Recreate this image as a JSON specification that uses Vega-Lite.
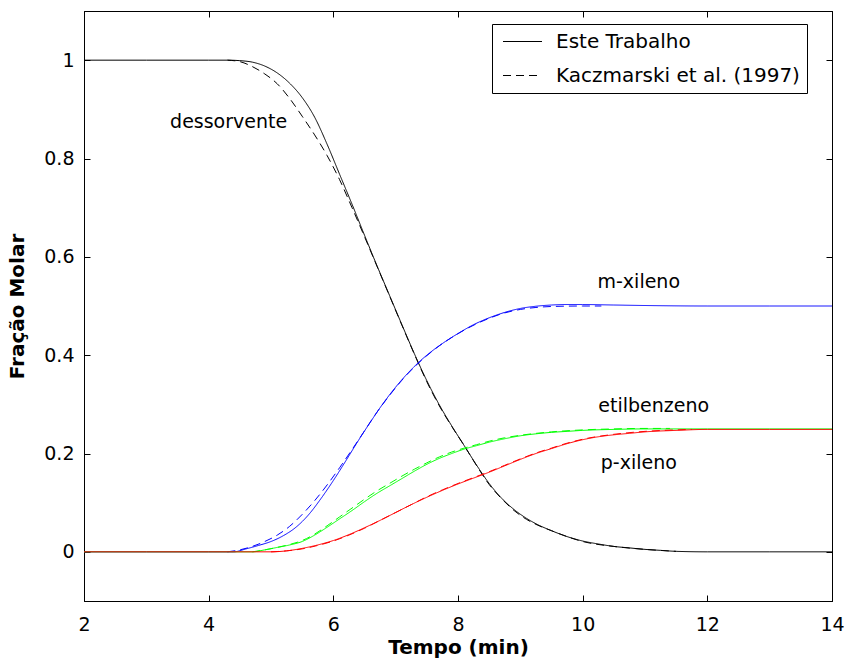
{
  "$schema": "https://vega.github.io/schema/vega-lite/v6.json",
  "width": 748,
  "height": 590,
  "padding": {"left": 84, "top": 11, "right": 13, "bottom": 62},
  "autosize": {"type": "none"},
  "background": "white",
  "config": {
    "font": "DejaVu Sans",
    "view": {"stroke": "black", "strokeWidth": 1},
    "axis": {
      "labelFont": "DejaVu Sans", "labelFontSize": 19, "labelColor": "black",
      "tickColor": "black", "tickSize": -6, "tickWidth": 1,
      "domainColor": "black", "domainWidth": 1, "grid": false,
      "labelFlush": false, "labelOverlap": false,
      "titleFont": "DejaVu Sans", "titleFontSize": 20, "titleFontWeight": "bold", "titleColor": "black"
    }
  },
  "resolve": {"axis": {"x": "independent", "y": "independent"}},
  "layer": [
    {
      "data": {"values": [
        {"c":"dessorvente","s":"Kaczmarski et al. (1997)","t":4.3,"v":1},
        {"c":"dessorvente","s":"Kaczmarski et al. (1997)","t":4.5,"v":0.997},
        {"c":"dessorvente","s":"Kaczmarski et al. (1997)","t":4.7,"v":0.987},
        {"c":"dessorvente","s":"Kaczmarski et al. (1997)","t":4.9,"v":0.972},
        {"c":"dessorvente","s":"Kaczmarski et al. (1997)","t":5.1,"v":0.952},
        {"c":"dessorvente","s":"Kaczmarski et al. (1997)","t":5.3,"v":0.922},
        {"c":"dessorvente","s":"Kaczmarski et al. (1997)","t":5.5,"v":0.886},
        {"c":"dessorvente","s":"Kaczmarski et al. (1997)","t":5.7,"v":0.848},
        {"c":"dessorvente","s":"Kaczmarski et al. (1997)","t":5.9,"v":0.806},
        {"c":"dessorvente","s":"Kaczmarski et al. (1997)","t":6.1,"v":0.757},
        {"c":"dessorvente","s":"Kaczmarski et al. (1997)","t":6.3,"v":0.7},
        {"c":"dessorvente","s":"Kaczmarski et al. (1997)","t":6.5,"v":0.641},
        {"c":"dessorvente","s":"Kaczmarski et al. (1997)","t":6.7,"v":0.581},
        {"c":"dessorvente","s":"Kaczmarski et al. (1997)","t":6.9,"v":0.521},
        {"c":"dessorvente","s":"Kaczmarski et al. (1997)","t":7.1,"v":0.461},
        {"c":"dessorvente","s":"Kaczmarski et al. (1997)","t":7.3,"v":0.402},
        {"c":"dessorvente","s":"Kaczmarski et al. (1997)","t":7.5,"v":0.346},
        {"c":"dessorvente","s":"Kaczmarski et al. (1997)","t":7.7,"v":0.297},
        {"c":"dessorvente","s":"Kaczmarski et al. (1997)","t":7.9,"v":0.255},
        {"c":"dessorvente","s":"Kaczmarski et al. (1997)","t":8.1,"v":0.216},
        {"c":"dessorvente","s":"Kaczmarski et al. (1997)","t":8.3,"v":0.175},
        {"c":"dessorvente","s":"Kaczmarski et al. (1997)","t":8.5,"v":0.137},
        {"c":"dessorvente","s":"Kaczmarski et al. (1997)","t":8.7,"v":0.108},
        {"c":"dessorvente","s":"Kaczmarski et al. (1997)","t":8.9,"v":0.084},
        {"c":"dessorvente","s":"Kaczmarski et al. (1997)","t":9.1,"v":0.066},
        {"c":"dessorvente","s":"Kaczmarski et al. (1997)","t":9.3,"v":0.053},
        {"c":"dessorvente","s":"Kaczmarski et al. (1997)","t":9.5,"v":0.043},
        {"c":"dessorvente","s":"Kaczmarski et al. (1997)","t":9.75,"v":0.031},
        {"c":"dessorvente","s":"Kaczmarski et al. (1997)","t":10,"v":0.021},
        {"c":"dessorvente","s":"Kaczmarski et al. (1997)","t":10.5,"v":0.011},
        {"c":"dessorvente","s":"Kaczmarski et al. (1997)","t":11,"v":0.005},
        {"c":"dessorvente","s":"Kaczmarski et al. (1997)","t":11.5,"v":0.001},

        {"c":"dessorvente","s":"Este Trabalho","t":2,"v":1},
        {"c":"dessorvente","s":"Este Trabalho","t":3,"v":1},
        {"c":"dessorvente","s":"Este Trabalho","t":4,"v":1},
        {"c":"dessorvente","s":"Este Trabalho","t":4.3,"v":1},
        {"c":"dessorvente","s":"Este Trabalho","t":4.5,"v":0.999},
        {"c":"dessorvente","s":"Este Trabalho","t":4.7,"v":0.996},
        {"c":"dessorvente","s":"Este Trabalho","t":4.9,"v":0.988},
        {"c":"dessorvente","s":"Este Trabalho","t":5.1,"v":0.974},
        {"c":"dessorvente","s":"Este Trabalho","t":5.3,"v":0.953},
        {"c":"dessorvente","s":"Este Trabalho","t":5.5,"v":0.924},
        {"c":"dessorvente","s":"Este Trabalho","t":5.7,"v":0.884},
        {"c":"dessorvente","s":"Este Trabalho","t":5.9,"v":0.829},
        {"c":"dessorvente","s":"Este Trabalho","t":6.1,"v":0.768},
        {"c":"dessorvente","s":"Este Trabalho","t":6.3,"v":0.707},
        {"c":"dessorvente","s":"Este Trabalho","t":6.5,"v":0.644},
        {"c":"dessorvente","s":"Este Trabalho","t":6.7,"v":0.582},
        {"c":"dessorvente","s":"Este Trabalho","t":6.9,"v":0.522},
        {"c":"dessorvente","s":"Este Trabalho","t":7.1,"v":0.462},
        {"c":"dessorvente","s":"Este Trabalho","t":7.3,"v":0.403},
        {"c":"dessorvente","s":"Este Trabalho","t":7.5,"v":0.348},
        {"c":"dessorvente","s":"Este Trabalho","t":7.7,"v":0.299},
        {"c":"dessorvente","s":"Este Trabalho","t":7.9,"v":0.256},
        {"c":"dessorvente","s":"Este Trabalho","t":8.1,"v":0.216},
        {"c":"dessorvente","s":"Este Trabalho","t":8.3,"v":0.176},
        {"c":"dessorvente","s":"Este Trabalho","t":8.5,"v":0.139},
        {"c":"dessorvente","s":"Este Trabalho","t":8.7,"v":0.109},
        {"c":"dessorvente","s":"Este Trabalho","t":8.9,"v":0.086},
        {"c":"dessorvente","s":"Este Trabalho","t":9.1,"v":0.068},
        {"c":"dessorvente","s":"Este Trabalho","t":9.3,"v":0.054},
        {"c":"dessorvente","s":"Este Trabalho","t":9.5,"v":0.043},
        {"c":"dessorvente","s":"Este Trabalho","t":9.75,"v":0.031},
        {"c":"dessorvente","s":"Este Trabalho","t":10,"v":0.022},
        {"c":"dessorvente","s":"Este Trabalho","t":10.25,"v":0.016},
        {"c":"dessorvente","s":"Este Trabalho","t":10.5,"v":0.011},
        {"c":"dessorvente","s":"Este Trabalho","t":10.75,"v":0.008},
        {"c":"dessorvente","s":"Este Trabalho","t":11,"v":0.005},
        {"c":"dessorvente","s":"Este Trabalho","t":11.25,"v":0.003},
        {"c":"dessorvente","s":"Este Trabalho","t":11.5,"v":0.001},
        {"c":"dessorvente","s":"Este Trabalho","t":12,"v":0},
        {"c":"dessorvente","s":"Este Trabalho","t":13,"v":0},
        {"c":"dessorvente","s":"Este Trabalho","t":14,"v":0},

        {"c":"m-xileno","s":"Kaczmarski et al. (1997)","t":4.3,"v":0},
        {"c":"m-xileno","s":"Kaczmarski et al. (1997)","t":4.5,"v":0.004},
        {"c":"m-xileno","s":"Kaczmarski et al. (1997)","t":4.7,"v":0.011},
        {"c":"m-xileno","s":"Kaczmarski et al. (1997)","t":4.9,"v":0.021},
        {"c":"m-xileno","s":"Kaczmarski et al. (1997)","t":5.1,"v":0.034},
        {"c":"m-xileno","s":"Kaczmarski et al. (1997)","t":5.3,"v":0.052},
        {"c":"m-xileno","s":"Kaczmarski et al. (1997)","t":5.5,"v":0.076},
        {"c":"m-xileno","s":"Kaczmarski et al. (1997)","t":5.7,"v":0.104},
        {"c":"m-xileno","s":"Kaczmarski et al. (1997)","t":5.9,"v":0.136},
        {"c":"m-xileno","s":"Kaczmarski et al. (1997)","t":6.1,"v":0.171},
        {"c":"m-xileno","s":"Kaczmarski et al. (1997)","t":6.3,"v":0.208},
        {"c":"m-xileno","s":"Kaczmarski et al. (1997)","t":6.5,"v":0.246},
        {"c":"m-xileno","s":"Kaczmarski et al. (1997)","t":6.7,"v":0.284},
        {"c":"m-xileno","s":"Kaczmarski et al. (1997)","t":6.9,"v":0.318},
        {"c":"m-xileno","s":"Kaczmarski et al. (1997)","t":7.1,"v":0.349},
        {"c":"m-xileno","s":"Kaczmarski et al. (1997)","t":7.3,"v":0.376},
        {"c":"m-xileno","s":"Kaczmarski et al. (1997)","t":7.5,"v":0.399},
        {"c":"m-xileno","s":"Kaczmarski et al. (1997)","t":7.7,"v":0.419},
        {"c":"m-xileno","s":"Kaczmarski et al. (1997)","t":7.9,"v":0.436},
        {"c":"m-xileno","s":"Kaczmarski et al. (1997)","t":8.1,"v":0.451},
        {"c":"m-xileno","s":"Kaczmarski et al. (1997)","t":8.3,"v":0.464},
        {"c":"m-xileno","s":"Kaczmarski et al. (1997)","t":8.5,"v":0.475},
        {"c":"m-xileno","s":"Kaczmarski et al. (1997)","t":8.75,"v":0.486},
        {"c":"m-xileno","s":"Kaczmarski et al. (1997)","t":9,"v":0.493},
        {"c":"m-xileno","s":"Kaczmarski et al. (1997)","t":9.25,"v":0.497},
        {"c":"m-xileno","s":"Kaczmarski et al. (1997)","t":9.5,"v":0.499},
        {"c":"m-xileno","s":"Kaczmarski et al. (1997)","t":10,"v":0.5},
        {"c":"m-xileno","s":"Kaczmarski et al. (1997)","t":10.3,"v":0.5},

        {"c":"m-xileno","s":"Este Trabalho","t":2,"v":0},
        {"c":"m-xileno","s":"Este Trabalho","t":3,"v":0},
        {"c":"m-xileno","s":"Este Trabalho","t":4,"v":0},
        {"c":"m-xileno","s":"Este Trabalho","t":4.4,"v":0},
        {"c":"m-xileno","s":"Este Trabalho","t":4.6,"v":0.006},
        {"c":"m-xileno","s":"Este Trabalho","t":4.8,"v":0.013},
        {"c":"m-xileno","s":"Este Trabalho","t":5,"v":0.021},
        {"c":"m-xileno","s":"Este Trabalho","t":5.2,"v":0.033},
        {"c":"m-xileno","s":"Este Trabalho","t":5.4,"v":0.05},
        {"c":"m-xileno","s":"Este Trabalho","t":5.6,"v":0.075},
        {"c":"m-xileno","s":"Este Trabalho","t":5.8,"v":0.108},
        {"c":"m-xileno","s":"Este Trabalho","t":6,"v":0.145},
        {"c":"m-xileno","s":"Este Trabalho","t":6.2,"v":0.185},
        {"c":"m-xileno","s":"Este Trabalho","t":6.4,"v":0.226},
        {"c":"m-xileno","s":"Este Trabalho","t":6.6,"v":0.265},
        {"c":"m-xileno","s":"Este Trabalho","t":6.8,"v":0.302},
        {"c":"m-xileno","s":"Este Trabalho","t":7,"v":0.335},
        {"c":"m-xileno","s":"Este Trabalho","t":7.2,"v":0.364},
        {"c":"m-xileno","s":"Este Trabalho","t":7.4,"v":0.389},
        {"c":"m-xileno","s":"Este Trabalho","t":7.6,"v":0.41},
        {"c":"m-xileno","s":"Este Trabalho","t":7.8,"v":0.428},
        {"c":"m-xileno","s":"Este Trabalho","t":8,"v":0.444},
        {"c":"m-xileno","s":"Este Trabalho","t":8.25,"v":0.462},
        {"c":"m-xileno","s":"Este Trabalho","t":8.5,"v":0.476},
        {"c":"m-xileno","s":"Este Trabalho","t":8.75,"v":0.487},
        {"c":"m-xileno","s":"Este Trabalho","t":9,"v":0.495},
        {"c":"m-xileno","s":"Este Trabalho","t":9.25,"v":0.4995},
        {"c":"m-xileno","s":"Este Trabalho","t":9.5,"v":0.502},
        {"c":"m-xileno","s":"Este Trabalho","t":9.75,"v":0.503},
        {"c":"m-xileno","s":"Este Trabalho","t":10,"v":0.503},
        {"c":"m-xileno","s":"Este Trabalho","t":10.5,"v":0.502},
        {"c":"m-xileno","s":"Este Trabalho","t":11,"v":0.501},
        {"c":"m-xileno","s":"Este Trabalho","t":12,"v":0.5},
        {"c":"m-xileno","s":"Este Trabalho","t":13,"v":0.5},
        {"c":"m-xileno","s":"Este Trabalho","t":14,"v":0.5},

        {"c":"etilbenzeno","s":"Kaczmarski et al. (1997)","t":4.7,"v":0},
        {"c":"etilbenzeno","s":"Kaczmarski et al. (1997)","t":4.9,"v":0.004},
        {"c":"etilbenzeno","s":"Kaczmarski et al. (1997)","t":5.1,"v":0.009},
        {"c":"etilbenzeno","s":"Kaczmarski et al. (1997)","t":5.3,"v":0.015},
        {"c":"etilbenzeno","s":"Kaczmarski et al. (1997)","t":5.5,"v":0.023},
        {"c":"etilbenzeno","s":"Kaczmarski et al. (1997)","t":5.7,"v":0.036},
        {"c":"etilbenzeno","s":"Kaczmarski et al. (1997)","t":5.9,"v":0.053},
        {"c":"etilbenzeno","s":"Kaczmarski et al. (1997)","t":6.1,"v":0.071},
        {"c":"etilbenzeno","s":"Kaczmarski et al. (1997)","t":6.3,"v":0.089},
        {"c":"etilbenzeno","s":"Kaczmarski et al. (1997)","t":6.5,"v":0.107},
        {"c":"etilbenzeno","s":"Kaczmarski et al. (1997)","t":6.7,"v":0.124},
        {"c":"etilbenzeno","s":"Kaczmarski et al. (1997)","t":6.9,"v":0.139},
        {"c":"etilbenzeno","s":"Kaczmarski et al. (1997)","t":7.1,"v":0.154},
        {"c":"etilbenzeno","s":"Kaczmarski et al. (1997)","t":7.3,"v":0.168},
        {"c":"etilbenzeno","s":"Kaczmarski et al. (1997)","t":7.5,"v":0.181},
        {"c":"etilbenzeno","s":"Kaczmarski et al. (1997)","t":7.7,"v":0.193},
        {"c":"etilbenzeno","s":"Kaczmarski et al. (1997)","t":7.9,"v":0.203},
        {"c":"etilbenzeno","s":"Kaczmarski et al. (1997)","t":8.1,"v":0.211},
        {"c":"etilbenzeno","s":"Kaczmarski et al. (1997)","t":8.3,"v":0.218},
        {"c":"etilbenzeno","s":"Kaczmarski et al. (1997)","t":8.5,"v":0.225},
        {"c":"etilbenzeno","s":"Kaczmarski et al. (1997)","t":8.75,"v":0.232},
        {"c":"etilbenzeno","s":"Kaczmarski et al. (1997)","t":9,"v":0.237},
        {"c":"etilbenzeno","s":"Kaczmarski et al. (1997)","t":9.5,"v":0.244},
        {"c":"etilbenzeno","s":"Kaczmarski et al. (1997)","t":10,"v":0.248},
        {"c":"etilbenzeno","s":"Kaczmarski et al. (1997)","t":10.5,"v":0.25},
        {"c":"etilbenzeno","s":"Kaczmarski et al. (1997)","t":11,"v":0.251},
        {"c":"etilbenzeno","s":"Kaczmarski et al. (1997)","t":11.4,"v":0.251},

        {"c":"etilbenzeno","s":"Este Trabalho","t":2,"v":0},
        {"c":"etilbenzeno","s":"Este Trabalho","t":3,"v":0},
        {"c":"etilbenzeno","s":"Este Trabalho","t":4,"v":0},
        {"c":"etilbenzeno","s":"Este Trabalho","t":4.7,"v":0},
        {"c":"etilbenzeno","s":"Este Trabalho","t":4.9,"v":0.004},
        {"c":"etilbenzeno","s":"Este Trabalho","t":5.1,"v":0.009},
        {"c":"etilbenzeno","s":"Este Trabalho","t":5.3,"v":0.014},
        {"c":"etilbenzeno","s":"Este Trabalho","t":5.5,"v":0.021},
        {"c":"etilbenzeno","s":"Este Trabalho","t":5.7,"v":0.034},
        {"c":"etilbenzeno","s":"Este Trabalho","t":5.9,"v":0.05},
        {"c":"etilbenzeno","s":"Este Trabalho","t":6.1,"v":0.067},
        {"c":"etilbenzeno","s":"Este Trabalho","t":6.3,"v":0.084},
        {"c":"etilbenzeno","s":"Este Trabalho","t":6.5,"v":0.102},
        {"c":"etilbenzeno","s":"Este Trabalho","t":6.7,"v":0.119},
        {"c":"etilbenzeno","s":"Este Trabalho","t":6.9,"v":0.134},
        {"c":"etilbenzeno","s":"Este Trabalho","t":7.1,"v":0.149},
        {"c":"etilbenzeno","s":"Este Trabalho","t":7.3,"v":0.164},
        {"c":"etilbenzeno","s":"Este Trabalho","t":7.5,"v":0.178},
        {"c":"etilbenzeno","s":"Este Trabalho","t":7.7,"v":0.19},
        {"c":"etilbenzeno","s":"Este Trabalho","t":7.9,"v":0.2},
        {"c":"etilbenzeno","s":"Este Trabalho","t":8.1,"v":0.209},
        {"c":"etilbenzeno","s":"Este Trabalho","t":8.3,"v":0.216},
        {"c":"etilbenzeno","s":"Este Trabalho","t":8.5,"v":0.223},
        {"c":"etilbenzeno","s":"Este Trabalho","t":8.75,"v":0.23},
        {"c":"etilbenzeno","s":"Este Trabalho","t":9,"v":0.236},
        {"c":"etilbenzeno","s":"Este Trabalho","t":9.25,"v":0.24},
        {"c":"etilbenzeno","s":"Este Trabalho","t":9.5,"v":0.243},
        {"c":"etilbenzeno","s":"Este Trabalho","t":9.75,"v":0.245},
        {"c":"etilbenzeno","s":"Este Trabalho","t":10,"v":0.247},
        {"c":"etilbenzeno","s":"Este Trabalho","t":10.5,"v":0.249},
        {"c":"etilbenzeno","s":"Este Trabalho","t":11,"v":0.25},
        {"c":"etilbenzeno","s":"Este Trabalho","t":12,"v":0.25},
        {"c":"etilbenzeno","s":"Este Trabalho","t":13,"v":0.25},
        {"c":"etilbenzeno","s":"Este Trabalho","t":14,"v":0.25},

        {"c":"p-xileno","s":"Kaczmarski et al. (1997)","t":5,"v":0},
        {"c":"p-xileno","s":"Kaczmarski et al. (1997)","t":5.25,"v":0.002},
        {"c":"p-xileno","s":"Kaczmarski et al. (1997)","t":5.5,"v":0.006},
        {"c":"p-xileno","s":"Kaczmarski et al. (1997)","t":5.75,"v":0.013},
        {"c":"p-xileno","s":"Kaczmarski et al. (1997)","t":6,"v":0.022},
        {"c":"p-xileno","s":"Kaczmarski et al. (1997)","t":6.25,"v":0.034},
        {"c":"p-xileno","s":"Kaczmarski et al. (1997)","t":6.5,"v":0.048},
        {"c":"p-xileno","s":"Kaczmarski et al. (1997)","t":6.75,"v":0.064},
        {"c":"p-xileno","s":"Kaczmarski et al. (1997)","t":7,"v":0.08},
        {"c":"p-xileno","s":"Kaczmarski et al. (1997)","t":7.25,"v":0.096},
        {"c":"p-xileno","s":"Kaczmarski et al. (1997)","t":7.5,"v":0.112},
        {"c":"p-xileno","s":"Kaczmarski et al. (1997)","t":7.75,"v":0.126},
        {"c":"p-xileno","s":"Kaczmarski et al. (1997)","t":8,"v":0.139},
        {"c":"p-xileno","s":"Kaczmarski et al. (1997)","t":8.25,"v":0.151},
        {"c":"p-xileno","s":"Kaczmarski et al. (1997)","t":8.5,"v":0.163},
        {"c":"p-xileno","s":"Kaczmarski et al. (1997)","t":8.75,"v":0.176},
        {"c":"p-xileno","s":"Kaczmarski et al. (1997)","t":9,"v":0.189},
        {"c":"p-xileno","s":"Kaczmarski et al. (1997)","t":9.25,"v":0.201},
        {"c":"p-xileno","s":"Kaczmarski et al. (1997)","t":9.5,"v":0.211},
        {"c":"p-xileno","s":"Kaczmarski et al. (1997)","t":9.75,"v":0.221},
        {"c":"p-xileno","s":"Kaczmarski et al. (1997)","t":10,"v":0.229},
        {"c":"p-xileno","s":"Kaczmarski et al. (1997)","t":10.5,"v":0.239},
        {"c":"p-xileno","s":"Kaczmarski et al. (1997)","t":11,"v":0.245},
        {"c":"p-xileno","s":"Kaczmarski et al. (1997)","t":11.5,"v":0.248},
        {"c":"p-xileno","s":"Kaczmarski et al. (1997)","t":11.75,"v":0.249},

        {"c":"p-xileno","s":"Este Trabalho","t":2,"v":0},
        {"c":"p-xileno","s":"Este Trabalho","t":3,"v":0},
        {"c":"p-xileno","s":"Este Trabalho","t":4,"v":0},
        {"c":"p-xileno","s":"Este Trabalho","t":5,"v":0},
        {"c":"p-xileno","s":"Este Trabalho","t":5.25,"v":0.002},
        {"c":"p-xileno","s":"Este Trabalho","t":5.5,"v":0.007},
        {"c":"p-xileno","s":"Este Trabalho","t":5.75,"v":0.014},
        {"c":"p-xileno","s":"Este Trabalho","t":6,"v":0.023},
        {"c":"p-xileno","s":"Este Trabalho","t":6.25,"v":0.035},
        {"c":"p-xileno","s":"Este Trabalho","t":6.5,"v":0.049},
        {"c":"p-xileno","s":"Este Trabalho","t":6.75,"v":0.064},
        {"c":"p-xileno","s":"Este Trabalho","t":7,"v":0.08},
        {"c":"p-xileno","s":"Este Trabalho","t":7.25,"v":0.096},
        {"c":"p-xileno","s":"Este Trabalho","t":7.5,"v":0.111},
        {"c":"p-xileno","s":"Este Trabalho","t":7.75,"v":0.125},
        {"c":"p-xileno","s":"Este Trabalho","t":8,"v":0.138},
        {"c":"p-xileno","s":"Este Trabalho","t":8.25,"v":0.15},
        {"c":"p-xileno","s":"Este Trabalho","t":8.5,"v":0.162},
        {"c":"p-xileno","s":"Este Trabalho","t":8.75,"v":0.175},
        {"c":"p-xileno","s":"Este Trabalho","t":9,"v":0.188},
        {"c":"p-xileno","s":"Este Trabalho","t":9.25,"v":0.2},
        {"c":"p-xileno","s":"Este Trabalho","t":9.5,"v":0.21},
        {"c":"p-xileno","s":"Este Trabalho","t":9.75,"v":0.22},
        {"c":"p-xileno","s":"Este Trabalho","t":10,"v":0.228},
        {"c":"p-xileno","s":"Este Trabalho","t":10.25,"v":0.234},
        {"c":"p-xileno","s":"Este Trabalho","t":10.5,"v":0.238},
        {"c":"p-xileno","s":"Este Trabalho","t":10.75,"v":0.241},
        {"c":"p-xileno","s":"Este Trabalho","t":11,"v":0.244},
        {"c":"p-xileno","s":"Este Trabalho","t":11.5,"v":0.247},
        {"c":"p-xileno","s":"Este Trabalho","t":12,"v":0.249},
        {"c":"p-xileno","s":"Este Trabalho","t":13,"v":0.249},
        {"c":"p-xileno","s":"Este Trabalho","t":14,"v":0.249}
      ]},
      "mark": {"type": "line", "strokeWidth": 1, "interpolate": "monotone"},
      "encoding": {
        "x": {"field": "t", "type": "quantitative",
          "scale": {"domain": [2, 14], "nice": false, "zero": false},
          "axis": {"orient": "bottom", "values": [2, 4, 6, 8, 10, 12, 14], "format": "d",
            "title": "Tempo (min)", "labelPadding": 20, "titleBaseline": "alphabetic", "titleY": 52}},
        "y": {"field": "v", "type": "quantitative",
          "scale": {"domain": [-0.1, 1.1], "nice": false, "zero": false},
          "axis": {"orient": "left", "values": [0, 0.2, 0.4, 0.6, 0.8, 1], "format": "~g",
            "title": "Fração Molar", "labelPadding": 16, "titleX": -61, "titleBaseline": "alphabetic", "titleAngle": -90}},
        "color": {"field": "c", "type": "nominal",
          "scale": {"domain": ["dessorvente", "m-xileno", "etilbenzeno", "p-xileno"],
                    "range": ["#000000", "#0000ff", "#00ff00", "#ff0000"]},
          "legend": null},
        "strokeDash": {"field": "s", "type": "nominal",
          "scale": {"domain": ["Este Trabalho", "Kaczmarski et al. (1997)"], "range": [[1, 0], [8, 5]]},
          "legend": {"orient": "none", "legendX": 408, "legendY": 13, "title": null,
            "padding": 7, "strokeColor": "black", "fillColor": "white", "cornerRadius": 0,
            "symbolType": "M-1.95,0H1.95", "symbolSize": 400, "symbolStrokeColor": "black",
            "symbolStrokeWidth": 1, "symbolOffset": 13, "labelOffset": 23, "labelLimit": 400,
            "labelFontSize": 20, "labelFont": "DejaVu Sans", "labelColor": "black", "rowPadding": 13}}
      }
    },
    {
      "data": {"values": [
        {"label": "dessorvente", "t": 4.32, "v": 0.875},
        {"label": "m-xileno", "t": 10.9, "v": 0.548},
        {"label": "etilbenzeno", "t": 11.14, "v": 0.296},
        {"label": "p-xileno", "t": 10.9, "v": 0.181}
      ]},
      "mark": {"type": "text", "fontSize": 19, "font": "DejaVu Sans", "color": "black", "align": "center", "baseline": "middle"},
      "encoding": {
        "x": {"field": "t", "type": "quantitative",
          "scale": {"domain": [2, 14], "nice": false, "zero": false},
          "axis": {"orient": "top", "labels": false, "title": null, "values": [2, 4, 6, 8, 10, 12, 14]}},
        "y": {"field": "v", "type": "quantitative",
          "scale": {"domain": [-0.1, 1.1], "nice": false, "zero": false},
          "axis": {"orient": "right", "labels": false, "title": null, "values": [0, 0.2, 0.4, 0.6, 0.8, 1]}},
        "text": {"field": "label"}
      }
    }
  ]
}
